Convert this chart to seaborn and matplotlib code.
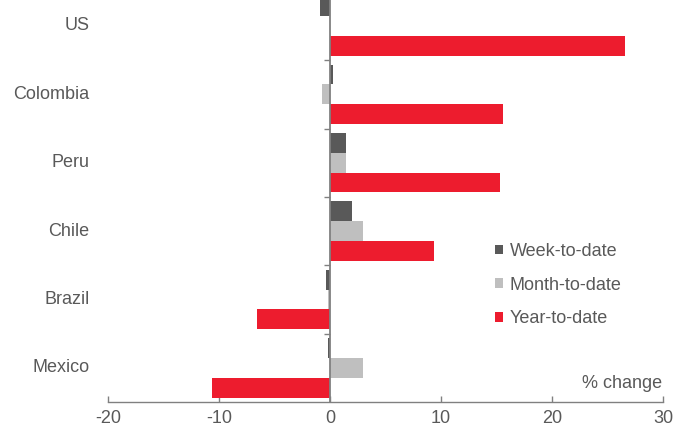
import matplotlib
matplotlib.use("Agg")
import matplotlib.pyplot as plt
import matplotlib.transforms as mtransforms
import seaborn as sns
import pandas as pd
from matplotlib.ticker import FixedLocator

countries = ["US", "Colombia", "Peru", "Chile", "Brazil", "Mexico"]
series = ["Week-to-date", "Month-to-date", "Year-to-date"]
week_to_date = [-0.9, 0.3, 1.45, 1.95, -0.4, -0.2]
month_to_date = [0.0, -0.75, 1.4, 3.0, -0.15, 3.0]
year_to_date = [26.6, 15.6, 15.3, 9.4, -6.6, -10.6]
x_ticks = [-20, -10, 0, 10, 20, 30]
colors = ["#595959", "#BFBFBF", "#ED1C2E"]
text_col = "#595959"

rows = []
for s, vals in zip(series, [week_to_date, month_to_date, year_to_date]):
    for c, v in zip(countries, vals):
        rows.append({"country": c, "series": s, "value": v})
df = pd.DataFrame(rows)

sns.set_theme(style="white")
plt.rcParams["font.family"] = ["Liberation Sans", "DejaVu Sans"]
fs = 13

fig = plt.figure(figsize=(6.91, 4.30), dpi=100)
ax = fig.add_axes([108 / 691, 28 / 430, (663 - 108) / 691, 1 - 28 / 430])

sns.barplot(data=df, y="country", x="value", hue="series", order=countries,
            hue_order=series, palette=colors, width=0.87, orient="h",
            saturation=1, ax=ax, linewidth=0)

ax.set_xlim(-20, 30)
ax.set_ylim(5.5, -0.38)
ax.set_xlabel("")
ax.set_ylabel("")

for sp in ["top", "right"]:
    ax.spines[sp].set_visible(False)
ax.spines["left"].set_position(("data", 0))
ax.spines["left"].set_color("#808080")
ax.spines["left"].set_linewidth(1.3)
ax.spines["bottom"].set_color("#808080")
ax.spines["bottom"].set_linewidth(1.0)

ax.set_xticks(x_ticks)
ax.set_xticklabels([str(t) for t in x_ticks])
ax.tick_params(axis="x", direction="in", length=4, width=1, color="#808080",
               labelsize=fs, labelcolor=text_col, pad=6, bottom=True)

ax.set_yticks(range(len(countries)))
ax.set_yticklabels(countries)
ax.tick_params(axis="y", which="major", length=0, labelsize=fs,
               labelcolor=text_col, pad=173, left=True)
shift = mtransforms.ScaledTranslation(0, 2 / 100, fig.dpi_scale_trans)
for lbl in ax.get_yticklabels():
    lbl.set_transform(lbl.get_transform() + shift)
ax.yaxis.set_minor_locator(FixedLocator([0.5 + i for i in range(len(countries) - 1)]))
ax.tick_params(axis="y", which="minor", direction="out", length=4, width=1,
               color="#808080", left=True)

leg = ax.legend(loc="upper left", bbox_to_anchor=(495 / 691, 1 - 243 / 430),
                bbox_transform=fig.transFigure, frameon=False, fontsize=fs,
                handlelength=0.45, handleheight=0.45, handletextpad=0.35,
                labelspacing=0.92, borderpad=0, borderaxespad=0)
for t in leg.get_texts():
    t.set_color(text_col)

fig.text(662 / 691, 1 - 384 / 430, "% change", ha="right", va="center",
         fontsize=fs, color=text_col)

fig.savefig("out.png", dpi=100)
